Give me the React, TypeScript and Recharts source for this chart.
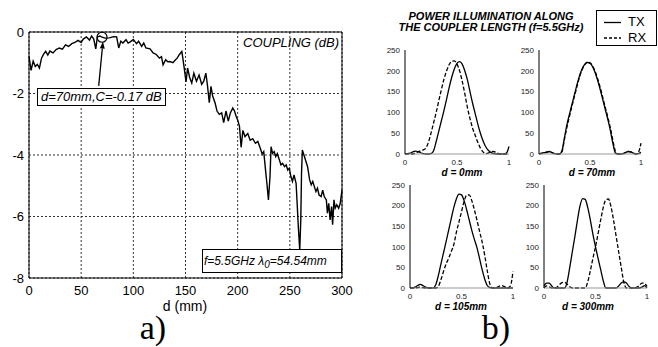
import React from 'react';
import { LineChart, Line, XAxis, YAxis, CartesianGrid, ReferenceArea, ReferenceDot, ReferenceLine } from 'recharts';

// left panel: coupling vs coupler length
const distMm = [
  0, 2, 4, 6, 8, 10, 12, 14, 16, 18, 20, 23, 26, 29, 32, 35, 38, 41, 44, 47, 50, 52, 55, 58, 60, 62, 64, 65.5, 68, 70,
  73, 77, 81, 84, 86, 88, 90, 93, 95, 97, 100, 103, 105, 108, 110, 112, 116, 119, 122, 125, 127, 128.5, 131, 133, 135, 138, 140, 142, 144, 146.5,
  148.5, 150.5, 152, 154, 156, 158, 160.5, 163, 165.5, 167.5, 169.5, 171, 172.8, 174.4, 176, 178.3, 180.2, 182.4, 184.7, 186.6, 188.8, 191, 193, 195.3, 197, 198.5, 200, 201.7, 203.3, 205,
  207, 209.7, 212, 214.5, 217, 219.3, 221.6, 223.5, 225, 227, 228, 229.5, 231, 232, 233.5, 235, 236.5, 238, 240, 241.5, 243, 245, 246.5, 248, 249.5, 251, 252.5, 254, 256, 257,
  258.3, 259.5, 260.5, 261.2, 262, 263.5, 265, 267, 269, 270.5, 272, 273.5, 275, 276.5, 278, 280, 281.5, 283, 285, 286, 287.3, 288.6, 290, 291, 292.3, 293.5, 295, 296.8, 298.3, 300,
];
const couplingDb = [
  -0.79, -1.25, -0.95, -1.12, -1.05, -1.17, -0.85, -0.72, -0.63, -0.75, -0.62, -0.68, -0.57, -0.52, -0.56, -0.42, -0.47, -0.38, -0.34, -0.27, -0.34, -0.23, -0.16, -0.26, -0.13, -0.22, -0.55, -0.16, -0.13, -0.17,
  -0.2, -0.19, -0.15, -0.16, -0.52, -0.3, -0.36, -0.25, -0.36, -0.32, -0.24, -0.38, -0.3, -0.47, -0.36, -0.52, -0.55, -0.68, -0.73, -0.85, -0.8, -1.07, -0.9, -0.97, -0.96, -1.0, -0.92, -0.85, -0.74, -0.63,
  -1.1, -1.62, -1.17, -1.48, -1.66, -1.34, -1.6, -1.4, -1.7, -1.6, -1.34, -1.72, -2.3, -1.77, -2.08, -2.3, -2.57, -2.68, -2.63, -2.95, -2.57, -2.9, -2.63, -2.47, -2.57, -2.74, -2.86, -3.06, -3.75, -3.2,
  -3.4, -3.3, -3.52, -3.47, -3.62, -3.56, -3.77, -3.97, -3.89, -4.59, -4.92, -5.46, -4.7, -3.73, -3.95, -3.89, -4.05, -3.95, -4.16, -4.32, -4.27, -4.38, -4.32, -4.49, -4.43, -4.7, -4.86, -4.65, -4.92, -5.57,
  -6.43, -7.1, -6.11, -4.6, -3.84, -4.0, -4.16, -4.38, -4.81, -4.97, -4.86, -5.03, -5.19, -5.08, -5.3, -5.35, -5.14, -5.35, -5.46, -5.89, -5.57, -6.11, -5.68, -6.27, -5.46, -5.73, -5.62, -5.73, -5.57, -5.14,
];
const dTicks = [0, 50, 100, 150, 200, 250, 300];
const cTicks = [0, -2, -4, -6, -8];

// right panels: power illumination along the coupler (normalised position)
const pos = [
  0, 0.025, 0.05, 0.075, 0.1, 0.125, 0.15, 0.175, 0.2, 0.225, 0.25, 0.275, 0.3, 0.325, 0.35, 0.375, 0.4, 0.425, 0.45, 0.475,
  0.5, 0.525, 0.55, 0.575, 0.6, 0.625, 0.65, 0.675, 0.7, 0.725, 0.75, 0.775, 0.8, 0.825, 0.85, 0.875, 0.9, 0.925, 0.95, 0.975, 1,
];
const tx0 = [0, 1, 2, 5, 7, 6, 3, 1, 0, 0, 1, 8, 30, 55, 80, 105, 132, 160, 185, 205, 218, 222, 216, 200, 178, 150, 122, 97, 72, 50, 32, 18, 9, 4, 1, 0, 0, 0, 0, 2, 18];
const rx0 = [0, 0, 0, 0, 2, 5, 8, 10, 14, 28, 50, 75, 100, 128, 155, 180, 200, 215, 223, 224, 216, 200, 175, 145, 112, 85, 62, 45, 28, 14, 5, 1, 2, 5, 6, 4, 1, 0, 0, 0, 0];
const tx70 = [0, 2, 3, 5, 6, 4, 1, 0, 0, 8, 40, 72, 97, 121, 145, 169, 190, 206, 216, 220, 218, 210, 196, 177, 155, 131, 107, 83, 56, 25, 2, 0, 0, 1, 4, 6, 5, 2, 0, 1, 4];
const rx70 = [0, 1, 2, 4, 5, 3, 1, 0, 0, 5, 36, 66, 92, 117, 141, 165, 187, 204, 215, 221, 219, 212, 199, 181, 160, 136, 112, 88, 62, 32, 6, 0, 0, 1, 3, 6, 5, 2, 0, 4, 26];
const tx105 = [0, 0, 2, 6, 9, 6, 2, 0, 0, 0, 8, 30, 58, 85, 112, 140, 168, 195, 216, 228, 226, 212, 190, 165, 140, 118, 98, 72, 45, 22, 6, 1, 0, 0, 0, 0, 0, 0, 0, 0, 0];
const rx105 = [0, 0, 0, 1, 2, 1, 0, 0, 0, 0, 0, 4, 20, 40, 58, 72, 88, 105, 135, 160, 185, 210, 225, 226, 212, 190, 165, 138, 112, 80, 42, 10, 0, 0, 2, 5, 5, 2, 0, 5, 40];
const tx300 = [5, 12, 12, 5, 0, 0, 0, 0, 0, 15, 50, 88, 125, 165, 200, 217, 215, 195, 165, 130, 100, 72, 45, 18, 0, 0, 0, 0, 0, 5, 12, 15, 12, 4, 0, 0, 0, 0, 2, 6, 0];
const rx300 = [0, 5, 3, 0, 0, 2, 8, 13, 14, 9, 3, 0, 0, 0, 0, 0, 0, 15, 42, 72, 100, 132, 165, 195, 214, 216, 198, 165, 126, 88, 50, 14, 0, 0, 0, 0, 2, 6, 12, 11, 4];
const posTicks = [0, 0.5, 1];
const powTicks = [0, 50, 100, 150, 200, 250];

const font = '"Liberation Sans", Arial, sans-serif';

const Arrow = (p: any) => {
  const { x1, y1, x2, y2 } = p;
  const ang = Math.atan2(y2 - y1, x2 - x1);
  const L = 7, W = 2.5;
  const bx = x2 - L * Math.cos(ang), by = y2 - L * Math.sin(ang);
  const nx = -Math.sin(ang) * W, ny = Math.cos(ang) * W;
  return (
    <g>
      <line x1={x1} y1={y1} x2={bx} y2={by} stroke="#000" strokeWidth={1.3} />
      <polygon points={`${x2},${y2} ${bx + nx},${by + ny} ${bx - nx},${by - ny}`} fill="#000" />
    </g>
  );
};

const SmallPlot = ({ tx, rx, left, top, pw, ph, caption, capX, capY }: any) => {
  const data = pos.map((x, i) => ({ x, tx: tx[i], rx: rx[i] }));
  const yw = 24;
  return (
    <>
      <div style={{ position: 'absolute', left: left - yw, top: top - 4 }}>
        <LineChart width={yw + pw + 6} height={ph + 4 + 14} data={data} margin={{ top: 4, right: 6, left: 0, bottom: 0 }}>
          <XAxis dataKey="x" type="number" domain={[0, 1]} ticks={posTicks} interval={0} height={14}
            tickLine={false} tickSize={4} tickMargin={1} axisLine={{ stroke: '#999' }} tick={{ fontSize: 8, fill: '#222' }} />
          <YAxis type="number" domain={[0, 250]} ticks={powTicks} interval={0} width={yw}
            tickLine={false} tickSize={4} tickMargin={1} axisLine={{ stroke: '#000' }} tick={{ fontSize: 8, fill: '#222' }} />
          <Line dataKey="tx" type="monotone" stroke="#000" strokeWidth={1.3} dot={false} isAnimationActive={false} />
          <Line dataKey="rx" type="monotone" stroke="#000" strokeWidth={1.3} strokeDasharray="4 2" dot={false} isAnimationActive={false} />
        </LineChart>
      </div>
      <div style={{ position: 'absolute', left: capX - 30, top: capY - 5, width: 60, textAlign: 'center', fontSize: 10, fontWeight: 'bold', fontStyle: 'italic', lineHeight: '10px', whiteSpace: 'nowrap' }}>
        {caption}
      </div>
    </>
  );
};

export default function App() {
  const coupling = distMm.map((d, i) => ({ d, c: couplingDb[i] }));
  return (
    <div style={{ position: 'absolute', left: 0, top: 0, width: 658, height: 347, background: '#fff', fontFamily: font, overflow: 'hidden' }}>
      {/* a) coupling */}
      <div style={{ position: 'absolute', left: 0, top: 0 }}>
        <LineChart width={360} height={320} data={coupling} margin={{ top: 32, right: 18, left: 0, bottom: 0 }}>
          <CartesianGrid stroke="#333" strokeDasharray="2 2" />
          <XAxis dataKey="d" type="number" domain={[0, 300]} ticks={dTicks} interval={0} height={42}
            tickLine={false} axisLine={false} tick={{ fontSize: 13, fill: '#000' }} />
          <YAxis type="number" domain={[-8, 0]} ticks={cTicks} interval={0} width={29}
            tickLine={false} axisLine={false} tickSize={0} tickMargin={5} tick={{ fontSize: 13, fill: '#000' }} />
          <ReferenceArea x1={0} x2={300} y1={-8} y2={0} fill="none" stroke="#000" strokeWidth={1} ifOverflow="visible" />
          <Line dataKey="c" type="linear" stroke="#000" strokeWidth={1.4} dot={false} isAnimationActive={false} />
          <ReferenceDot x={70} y={-0.17} r={5} fill="none" stroke="#000" strokeWidth={1.2} />
          <ReferenceLine segment={[{ x: 66.8, y: -1.75 }, { x: 70.9, y: -0.31 }]} shape={<Arrow />} />
        </LineChart>
      </div>
      <div style={{ position: 'absolute', left: 37, top: 88, height: 16, border: '1px solid #000', background: '#fff', padding: '0 3px', fontSize: 13, fontStyle: 'italic', lineHeight: '16px', whiteSpace: 'nowrap' }}>
        d=70mm,C=-0.17 dB
      </div>
      <div style={{ position: 'absolute', left: 243, top: 35, fontSize: 13, fontStyle: 'italic', whiteSpace: 'nowrap' }}>COUPLING (dB)</div>
      <div style={{ position: 'absolute', left: 202, top: 249, width: 137, height: 22, border: '1px solid #000', background: '#fff', fontSize: 12, fontStyle: 'italic', lineHeight: '22px', whiteSpace: 'nowrap', paddingLeft: 1 }}>
        f=5.5GHz λ<sub style={{ fontSize: 10 }}>0</sub>=54.54mm
      </div>
      <div style={{ position: 'absolute', left: 155, top: 300, width: 60, textAlign: 'center', fontSize: 14, lineHeight: '13px' }}>d (mm)</div>
      <div style={{ position: 'absolute', left: 137, top: 311, width: 32, height: 34, textAlign: 'center', fontSize: 34, lineHeight: '34px', fontFamily: '"Liberation Serif", serif' }}>a)</div>

      {/* b) illumination */}
      <div style={{ position: 'absolute', left: 391, top: 11, width: 200, textAlign: 'center', fontSize: 11, fontWeight: 'bold', fontStyle: 'italic', lineHeight: '11px' }}>
        POWER ILLUMINATION ALONG<br />THE COUPLER LENGTH (f=5.5GHz)
      </div>
      <div style={{ position: 'absolute', left: 596, top: 10, width: 59, height: 34, border: '1px solid #000', background: '#fff' }}>
        <svg width={20} height={34} style={{ position: 'absolute', left: 6, top: 0 }}>
          <line x1={1} y1={11.5} x2={18} y2={11.5} stroke="#000" strokeWidth={1.3} />
          <line x1={1} y1={27} x2={18} y2={27} stroke="#000" strokeWidth={1.3} strokeDasharray="3 2" />
        </svg>
        <div style={{ position: 'absolute', left: 31, top: 3, fontSize: 13, lineHeight: '16px' }}>TX<br />RX</div>
      </div>
      <SmallPlot tx={tx0} rx={rx0} left={405} top={50} pw={104} ph={104} caption="d = 0mm" capX={462} capY={173} />
      <SmallPlot tx={tx70} rx={rx70} left={539} top={50} pw={102} ph={104} caption="d = 70mm" capX={592} capY={173} />
      <SmallPlot tx={tx105} rx={rx105} left={410} top={185} pw={103} ph={103} caption="d = 105mm" capX={461} capY={307} />
      <SmallPlot tx={tx300} rx={rx300} left={544} top={185} pw={103} ph={103} caption="d = 300mm" capX={588} capY={307} />
      <div style={{ position: 'absolute', left: 480, top: 311, width: 32, height: 34, textAlign: 'center', fontSize: 34, lineHeight: '34px', fontFamily: '"Liberation Serif", serif' }}>b)</div>
    </div>
  );
}
